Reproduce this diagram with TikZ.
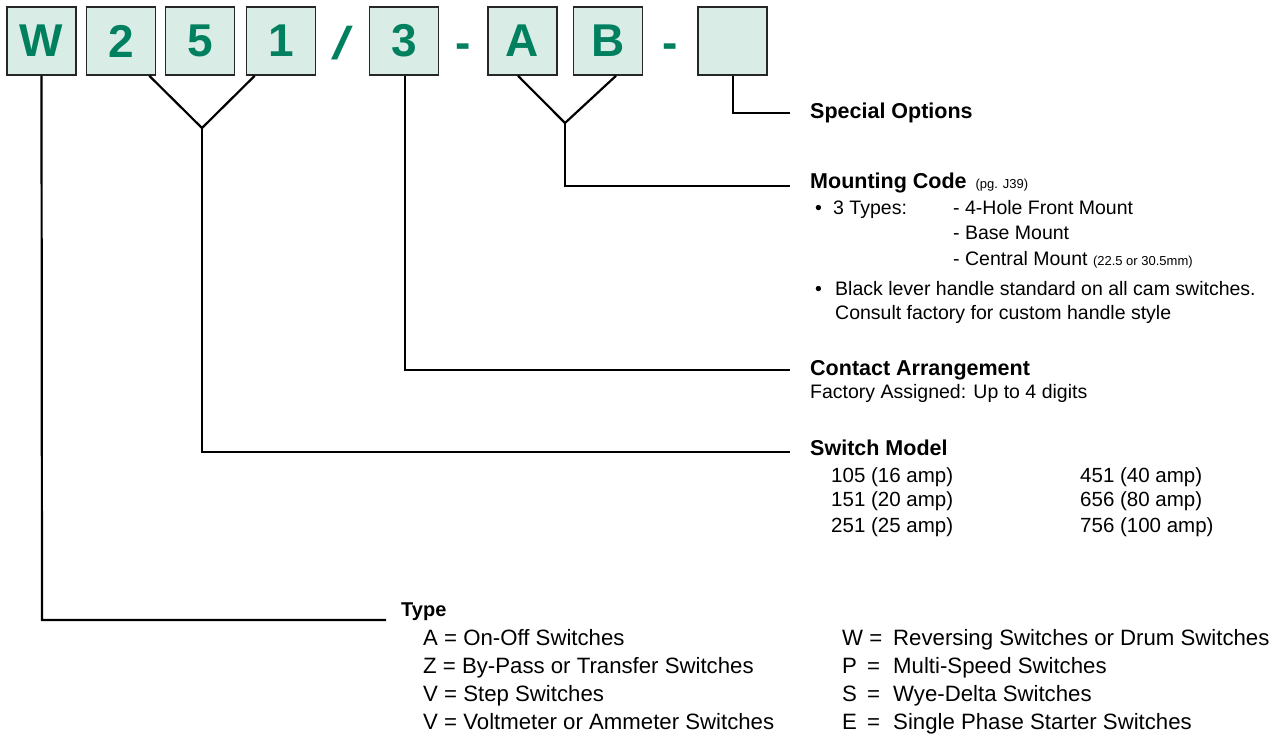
\documentclass[tikz,border=0pt]{standalone}
\usepackage{fontspec}
\setmainfont{Liberation Sans}
\definecolor{boxfill}{HTML}{D9ECE6}
\definecolor{codegreen}{HTML}{00805F}
\newcommand\fsz[1]{\fontsize{#1}{#1}\selectfont}
\begin{document}
\begin{tikzpicture}[x=1pt,y=-1pt,
  codebox/.style={draw=black!85, line width=1.6pt, fill=boxfill, minimum width=69pt, minimum height=68pt, inner sep=0pt, text=codegreen, font=\fsz{46}\bfseries},
  sepchar/.style={text=codegreen, font=\fsz{46}\bfseries, inner sep=0pt, anchor=base},
  lead/.style={line width=2.2pt, black},
  head/.style={anchor=base west, inner sep=0pt, font=\fsz{21.5}\bfseries},
  body/.style={anchor=base west, inner sep=0pt, font=\fsz{19.5}},
  numb/.style={anchor=base west, inner sep=0pt, font=\fsz{20.5}},
  item/.style={anchor=base west, inner sep=0pt, font=\fsz{22.2}},
]
\path[use as bounding box] (0,0) rectangle (1282,736);

% code boxes
\node[codebox] (bW) at (41.5,41) {W};
\node[codebox] (b2) at (121,41) {2};
\node[codebox] (b5) at (200,41) {5};
\node[codebox] (b1) at (281,41) {1};
\node[sepchar, font=\fsz{46}] (sl) at (342,59) {\scalebox{1.7}[1.0]{/}};
\node[codebox] (b3) at (404,41) {3};
\node[sepchar] (d1) at (463,58) {-};
\node[codebox] (bA) at (522.5,41) {A};
\node[codebox] (bB) at (608,41) {B};
\node[sepchar] (d2) at (670,58) {-};
\node[codebox] (bX) at (732.5,41) {};

% labels
\node[head] (tSO) at (810,118) {Special Options};
\node[head] (tMC) at (810,188) {Mounting Code\hspace{9pt}{\mdseries\fsz{13}(pg. J39)}};
\node[body] (m1) at (815,214) {•};
\node[body] (m2) at (833,214) {3 Types:};
\node[body] (m3) at (953,214) {- 4-Hole Front Mount};
\node[body] (m4) at (953,239) {- Base Mount};
\node[body] (m5) at (953,265) {- Central Mount {\fsz{13}(22.5 or 30.5mm)}};
\node[body] (m6) at (815,295) {•};
\node[body] (m7) at (835,295) {Black lever handle standard on all cam switches.};
\node[body] (m8) at (835,319) {Consult factory for custom handle style};

\node[head] (tCA) at (810,375) {Contact Arrangement};
\node[body] (c1) at (810,398) {Factory Assigned: Up to 4 digits};

\node[head] (tSM) at (810,455) {Switch Model};
\node[numb] (s1) at (831,482) {105 (16 amp)};
\node[numb] (s2) at (831,506) {151 (20 amp)};
\node[numb] (s3) at (831,532) {251 (25 amp)};
\node[numb] (s4) at (1080,482) {451 (40 amp)};
\node[numb] (s5) at (1080,506) {656 (80 amp)};
\node[numb] (s6) at (1080,532) {756 (100 amp)};

\node[head, font=\fsz{20}\bfseries] (tTY) at (401,616) {Type};
\node[item] (a1) at (423,645) {A = On-Off Switches};
\node[item] (a2) at (423,673) {Z = By-Pass or Transfer Switches};
\node[item] (a3) at (423,701) {V = Step Switches};
\node[item] (a4) at (423,729) {V = Voltmeter or Ammeter Switches};
\node[item] (w1) at (842,645) {W =};
\node[item] (w1b) at (893,645) {Reversing Switches or Drum Switches};
\node[item] (p1) at (842,673) {P};
\node[item] (p1e) at (867,673) {=};
\node[item] (p1b) at (893,673) {Multi-Speed Switches};
\node[item] (s1l) at (842,701) {S};
\node[item] (s1e) at (867,701) {=};
\node[item] (s1b) at (893,701) {Wye-Delta Switches};
\node[item] (e1) at (842,729) {E};
\node[item] (e1e) at (867,729) {=};
\node[item] (e1b) at (893,729) {Single Phase Starter Switches};

% connector joints
\coordinate (jType) at (42,620);
\coordinate (eType) at (386,620);
\coordinate (jModel) at (202,128);
\coordinate (kModel) at (202,452);
\coordinate (eModel) at (790,452);
\coordinate (kCont) at (405,370);
\coordinate (eCont) at (790,370);
\coordinate (jMount) at (565,123);
\coordinate (kMount) at (565,186);
\coordinate (eMount) at (790,186);
\coordinate (kSpec) at (733,113);
\coordinate (eSpec) at (790,113);

\draw[lead] (bW.south) -- (jType) -- (eType);
\draw[lead] ([xshift=-7pt]b2.south east) -- (jModel) -- ([xshift=9pt]b1.south west);
\draw[lead] (jModel) -- (kModel) -- (eModel);
\draw[lead] ([xshift=1pt]b3.south) -- (kCont) -- (eCont);
\draw[lead] ([xshift=-4.5pt]bA.south) -- (jMount) -- ([xshift=8pt]bB.south);
\draw[lead] (jMount) -- (kMount) -- (eMount);
\draw[lead] ([xshift=0.5pt]bX.south) -- (kSpec) -- (eSpec);
\end{tikzpicture}
\end{document}
